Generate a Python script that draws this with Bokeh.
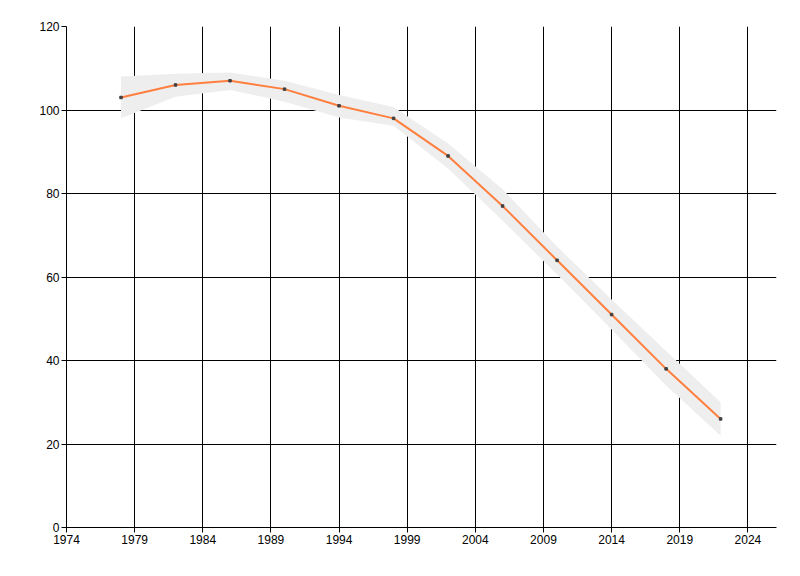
from bokeh.plotting import figure
from bokeh.models import Range1d, FixedTicker, ColumnDataSource
from bokeh.embed import file_html
from bokeh.resources import INLINE

# values
years = [1978, 1982, 1986, 1990, 1994, 1998, 2002, 2006, 2010, 2014, 2018, 2022]
values = [103, 106, 107, 105, 101, 98, 89, 77, 64, 51, 38, 26]
upper = [108, 108.7, 109, 107, 103.6, 100.7, 92, 81, 67.3, 54.6, 42.3, 30]
lower = [98, 103.2, 104.8, 102, 98.2, 96.2, 86, 73.5, 60.6, 47.4, 34, 22]
x_ticks = [1974, 1979, 1984, 1989, 1994, 1999, 2004, 2009, 2014, 2019, 2024]
y_ticks = [0, 20, 40, 60, 80, 100, 120]

source = ColumnDataSource(data=dict(year=years, value=values, upper=upper, lower=lower))

p = figure(width=784, height=560, output_backend="svg", toolbar_location=None,
           x_range=Range1d(1974, 2026.1), y_range=Range1d(0, 120))
p.min_border_left = 66
p.min_border_top = 26
p.min_border_right = 8
p.min_border_bottom = 33
p.outline_line_color = None
p.background_fill_color = "white"

# confidence band
p.varea(x='year', y1='lower', y2='upper', source=source, fill_color="#eeeeee")

# main series
p.line('year', 'value', source=source, line_color="#ff7f3f", line_width=2)
p.scatter('year', 'value', source=source, marker="square", size=2.5,
          fill_color="#404040", line_color="#404040")

# grid
p.xgrid.ticker = FixedTicker(ticks=x_ticks)
p.ygrid.ticker = FixedTicker(ticks=y_ticks)
p.xgrid.grid_line_color = "black"
p.ygrid.grid_line_color = "black"
p.xgrid.grid_line_width = 1
p.ygrid.grid_line_width = 1

# axes
p.xaxis.ticker = FixedTicker(ticks=x_ticks)
p.yaxis.ticker = FixedTicker(ticks=y_ticks)
for ax in (p.xaxis, p.yaxis):
    ax.axis_line_color = "black"
    ax.major_tick_line_color = "black"
    ax.major_tick_out = 5
    ax.major_tick_in = 0
    ax.minor_tick_line_color = None
    ax.major_label_text_font = "Liberation Sans"
    ax.major_label_text_font_size = "12px"
    ax.major_label_text_color = "black"
p.xaxis.major_label_standoff = 2
p.yaxis.major_label_standoff = 2

open("out.html", "w").write(file_html(p, INLINE))
